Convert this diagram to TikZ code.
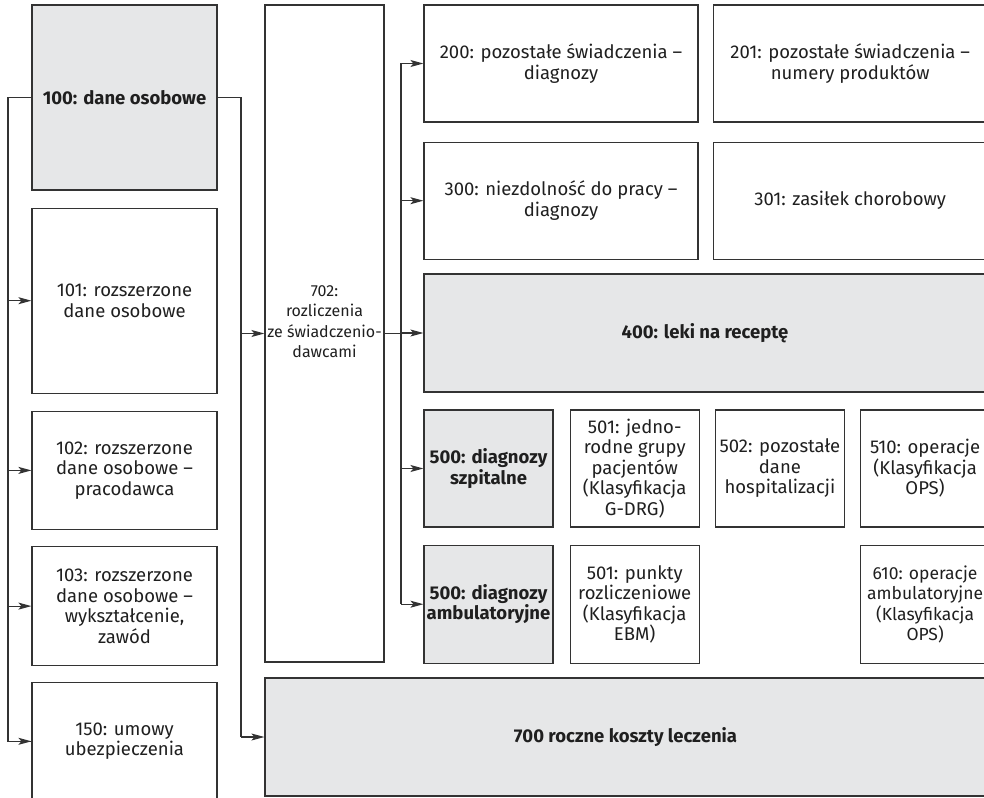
\documentclass[tikz,border=0pt]{standalone}
\usepackage{fontspec}
\setmainfont{Fira Sans}
\usetikzlibrary{positioning,arrows.meta}

\definecolor{boxgrey}{HTML}{E6E7E8}
\definecolor{linegrey}{HTML}{333333}

\begin{document}
\begin{tikzpicture}[x=1pt,y=-1pt,
  every node/.style={align=center,font=\fontsize{18.5}{20.5}\selectfont,text=black!88},
  box/.style={draw=linegrey,line width=1.2pt,inner sep=2pt},
  shaded/.style={box,fill=boxgrey,font=\fontsize{18.5}{20.5}\selectfont\bfseries},
  link/.style={draw=linegrey,line width=1.2pt},
  >={Stealth[length=13pt,width=7pt,inset=3pt]}]
\useasboundingbox (0,0) rectangle (984,797);
\clip (0,0) rectangle (984,797);

% left column
\node[shaded,minimum width=185pt,minimum height=185pt] (p100) at (124.5,97.5) {100: dane osobowe};
\node[box,minimum width=185pt,minimum height=185pt,below=17pt of p100] (p101) {101: rozszerzone\\dane osobowe};
\node[box,minimum width=185pt,minimum height=118pt,below=17pt of p101] (p102) {102: rozszerzone\\dane osobowe --\\pracodawca};
\node[box,minimum width=185pt,minimum height=119pt,below=16pt of p102] (p103) {103: rozszerzone\\dane osobowe --\\wykształcenie,\\zawód};
\node[box,minimum width=185pt,minimum height=117pt,below=16pt of p103] (p150) {150: umowy\\ubezpieczenia};

% middle
\node[box,minimum width=119pt,minimum height=657pt] (p702) at (324.5,333.5) {};
\node[font=\fontsize{16}{20.5}\selectfont] (t702) at (324.5,321.5) {702:\\rozliczenia\\ze świadczenio-\\dawcami};

% right part
\node[box,minimum width=274pt,minimum height=117pt] (p200) at (561,63.5) {200: pozostałe świadczenia --\\diagnozy};
\node[box,minimum width=274pt,minimum height=117pt,right=14pt of p200] (p201) {201: pozostałe świadczenia --\\numery produktów};
\node[box,minimum width=274pt,minimum height=117pt,below=19pt of p200] (p300) {300: niezdolność do pracy --\\diagnozy};
\node[box,minimum width=274pt,minimum height=117pt,below=19pt of p201] (p301) {301: zasiłek chorobowy};
\node[shaded,minimum width=562pt,minimum height=118pt] (p400) at (705,333) {400: leki na receptę};

\node[shaded,minimum width=129pt,minimum height=117pt] (p500s) at (488.5,468.5) {500: diagnozy\\szpitalne};
\node[box,minimum width=129pt,minimum height=117pt,right=16pt of p500s] (p501g) {501: jedno-\\rodne grupy\\pacjentów\\(Klasyfikacja\\G-DRG)};
\node[box,minimum width=129pt,minimum height=117pt,right=15pt of p501g] (p502) {502: pozostałe\\dane\\hospitalizacji};
\node[box,minimum width=129pt,minimum height=117pt,right=15pt of p502] (p510) {510: operacje\\(Klasyfikacja\\OPS)};

\node[shaded,minimum width=129pt,minimum height=118pt,below=17pt of p500s] (p500a) {500: diagnozy\\ambulatoryjne};
\node[box,minimum width=129pt,minimum height=118pt,below=17pt of p501g] (p501e) {501: punkty\\rozliczeniowe\\(Klasyfikacja\\EBM)};
\node[box,minimum width=129pt,minimum height=118pt,below=17pt of p510,font=\fontsize{17.5}{20.5}\selectfont] (p610) {610: operacje\\ambulatoryjne\\(Klasyfikacja\\OPS)};

\node[shaded,minimum width=721pt,minimum height=118pt] (p700) at (625.5,737) {700 roczne koszty leczenia};

% connectors
\coordinate (l0) at (8,0);
\coordinate (r0) at (241,0);
\coordinate (m0) at (401,0);
\draw[link] (p100.west) -| (l0 |- p150.west) -- (p150.west);
\foreach \n in {p101,p102,p103,p150}
  \draw[link,->] (l0 |- \n.west) -- (\n.west);
\draw[link] (p100.east) -| (r0 |- p700.west);
\foreach \n in {p702,p700}
  \draw[link,->] (r0 |- \n.west) -- (\n.west);
\draw[link] (p702.east) -- (m0 |- p702.east);
\draw[link] (m0 |- p200.west) -- (m0 |- p500a.west);
\foreach \n in {p200,p300,p400,p500s,p500a}
  \draw[link,->] (m0 |- \n.west) -- (\n.west);
\end{tikzpicture}
\end{document}
